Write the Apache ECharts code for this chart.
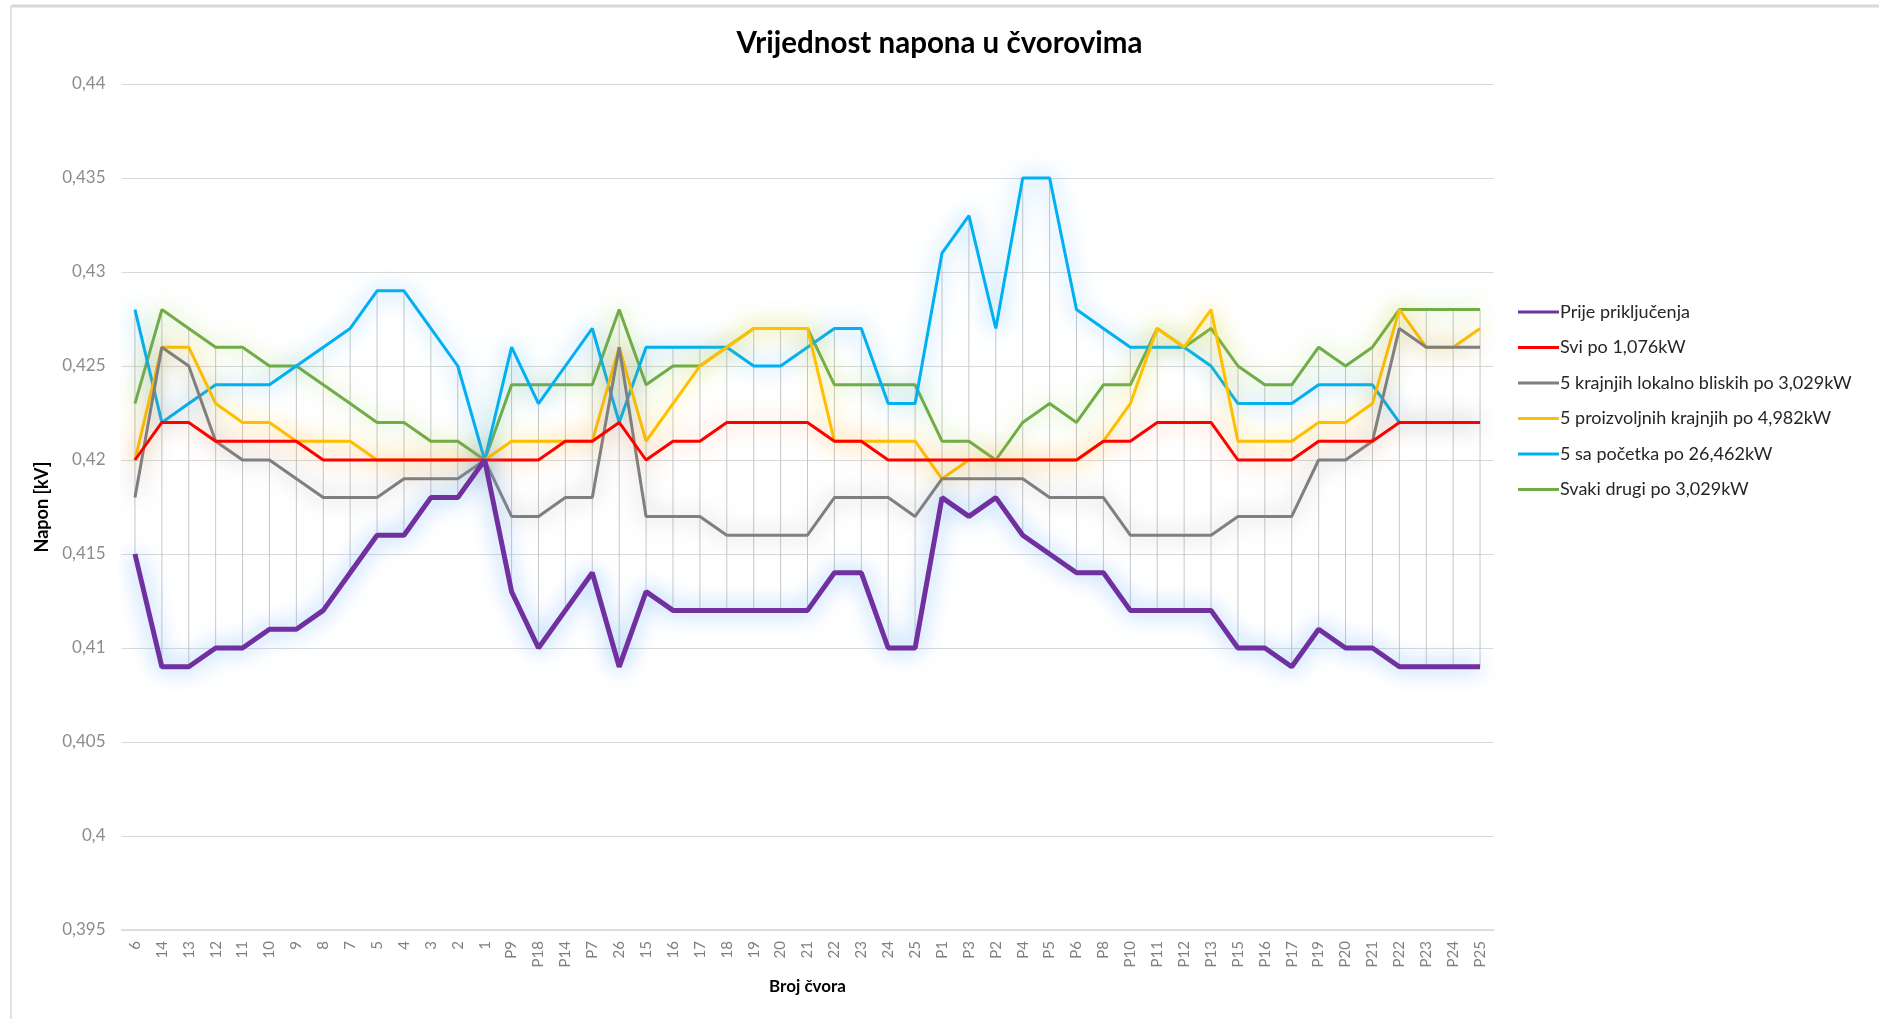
<!DOCTYPE html>
<html>
<head>
<meta charset="utf-8">
<title>Vrijednost napona u čvorovima</title>
<script src="https://cdn.jsdelivr.net/npm/echarts@6/dist/echarts.min.js"></script>
<style>
  html, body { margin: 0; padding: 0; background: #fff; }
  #chart { width: 1879px; height: 1019px; }
</style>
</head>
<body>
<div id="chart"></div>
<script>
// cvorovi (x os)
var cvorovi = ['6','14','13','12','11','10','9','8','7','5','4','3','2','1','P9','P18','P14','P7','26','15','16','17','18','19','20','21','22','23','24','25','P1','P3','P2','P4','P5','P6','P8','P10','P11','P12','P13','P15','P16','P17','P19','P20','P21','P22','P23','P24','P25'];

// napon [kV] po scenariju
var prijePrikljucenja = [0.415,0.409,0.409,0.410,0.410,0.411,0.411,0.412,0.414,0.416,0.416,0.418,0.418,0.420,0.413,0.410,0.412,0.414,0.409,0.413,0.412,0.412,0.412,0.412,0.412,0.412,0.414,0.414,0.410,0.410,0.418,0.417,0.418,0.416,0.415,0.414,0.414,0.412,0.412,0.412,0.412,0.410,0.410,0.409,0.411,0.410,0.410,0.409,0.409,0.409,0.409];
var sviPo1076 = [0.420,0.422,0.422,0.421,0.421,0.421,0.421,0.420,0.420,0.420,0.420,0.420,0.420,0.420,0.420,0.420,0.421,0.421,0.422,0.420,0.421,0.421,0.422,0.422,0.422,0.422,0.421,0.421,0.420,0.420,0.420,0.420,0.420,0.420,0.420,0.420,0.421,0.421,0.422,0.422,0.422,0.420,0.420,0.420,0.421,0.421,0.421,0.422,0.422,0.422,0.422];
var krajnjiLokalno = [0.418,0.426,0.425,0.421,0.420,0.420,0.419,0.418,0.418,0.418,0.419,0.419,0.419,0.420,0.417,0.417,0.418,0.418,0.426,0.417,0.417,0.417,0.416,0.416,0.416,0.416,0.418,0.418,0.418,0.417,0.419,0.419,0.419,0.419,0.418,0.418,0.418,0.416,0.416,0.416,0.416,0.417,0.417,0.417,0.420,0.420,0.421,0.427,0.426,0.426,0.426];
var proizvoljniKrajnji = [0.420,0.426,0.426,0.423,0.422,0.422,0.421,0.421,0.421,0.420,0.420,0.420,0.420,0.420,0.421,0.421,0.421,0.421,0.426,0.421,0.423,0.425,0.426,0.427,0.427,0.427,0.421,0.421,0.421,0.421,0.419,0.420,0.420,0.420,0.420,0.420,0.421,0.423,0.427,0.426,0.428,0.421,0.421,0.421,0.422,0.422,0.423,0.428,0.426,0.426,0.427];
var saPocetka = [0.428,0.422,0.423,0.424,0.424,0.424,0.425,0.426,0.427,0.429,0.429,0.427,0.425,0.420,0.426,0.423,0.425,0.427,0.422,0.426,0.426,0.426,0.426,0.425,0.425,0.426,0.427,0.427,0.423,0.423,0.431,0.433,0.427,0.435,0.435,0.428,0.427,0.426,0.426,0.426,0.425,0.423,0.423,0.423,0.424,0.424,0.424,0.422,0.422,0.422,0.422];
var svakiDrugi = [0.423,0.428,0.427,0.426,0.426,0.425,0.425,0.424,0.423,0.422,0.422,0.421,0.421,0.420,0.424,0.424,0.424,0.424,0.428,0.424,0.425,0.425,0.426,0.427,0.427,0.427,0.424,0.424,0.424,0.424,0.421,0.421,0.420,0.422,0.423,0.422,0.424,0.424,0.427,0.426,0.427,0.425,0.424,0.424,0.426,0.425,0.426,0.428,0.428,0.428,0.428];

var nazivi = ['Prije priključenja','Svi po 1,076kW','5 krajnjih lokalno bliskih po 3,029kW','5 proizvoljnih krajnjih po 4,982kW','5 sa početka po 26,462kW','Svaki drugi po 3,029kW'];
var boje = ['#7030a0','#ff0000','#7f7f7f','#ffc000','#00b0f0','#70ad47'];
var sjaj = ['rgba(100,170,245,1)','rgba(255,130,60,0.65)','rgba(110,110,110,0.6)','rgba(255,205,0,0.8)','rgba(50,160,240,0.8)','rgba(140,205,60,0.75)'];
var serije = [prijePrikljucenja, sviPo1076, krajnjiLokalno, proizvoljniKrajnji, saPocetka, svakiDrugi];

var font = 'Lato, "Open Sans", sans-serif';

// high-low linije (min do max po cvoru)
var hiLo = cvorovi.map(function (c, i) {
    var vals = serije.map(function (s) { return s[i]; });
    return [i, Math.min.apply(null, vals), Math.max.apply(null, vals)];
});

var series = [{
    type: 'custom',
    name: 'hilo',
    data: hiLo,
    z: 1,
    silent: true,
    renderItem: function (params, api) {
        var p1 = api.coord([api.value(0), api.value(1)]);
        var p2 = api.coord([api.value(0), api.value(2)]);
        return {
            type: 'line',
            shape: { x1: p1[0], y1: p1[1], x2: p2[0], y2: p2[1] },
            style: { stroke: '#c8c8c8', lineWidth: 1 }
        };
    }
}];

// redoslijed crtanja: zadnji je na vrhu
for (var k = serije.length - 1; k >= 0; k--) {
    series.push({
        type: 'line',
        name: nazivi[k],
        data: serije[k],
        symbol: 'none',
        showSymbol: false,
        z: 10 + (k == 0 ? 10 : 6 - k),
        color: boje[k],
        lineStyle: {
            color: boje[k],
            width: k == 0 ? 5 : 3,
            shadowColor: sjaj[k],
            shadowBlur: 22
        },
        emphasis: { disabled: true }
    });
}

var chart = echarts.init(document.getElementById('chart'));
var option = {
    animation: false,
    backgroundColor: '#ffffff',
    textStyle: { fontFamily: font },
    title: {
        text: 'Vrijednost napona u čvorovima',
        left: 'center',
        top: 23,
        textStyle: { fontFamily: font, fontSize: 29.5, fontWeight: 'bold', color: '#000' }
    },
    graphic: [
        { type: 'line', shape: { x1: 11, y1: 6, x2: 1879, y2: 6 }, style: { stroke: '#d9d9d9', lineWidth: 3 } },
        { type: 'line', shape: { x1: 11, y1: 6, x2: 11, y2: 1019 }, style: { stroke: '#d9d9d9', lineWidth: 1.5 } }
    ],
    legend: {
        orient: 'vertical',
        left: 1513,
        top: 298,
        icon: 'rect',
        itemWidth: 41,
        itemHeight: 3,
        itemGap: 17.5,
        data: nazivi,
        textStyle: { fontFamily: font, fontSize: 18, color: '#262626', padding: [0, 0, 0, -4], lineHeight: 18 }
    },
    grid: { left: 121.5, right: 385.5, top: 84, bottom: 89 },
    xAxis: {
        type: 'category',
        data: cvorovi,
        boundaryGap: true,
        name: 'Broj čvora',
        nameLocation: 'middle',
        nameGap: 48,
        nameTextStyle: { fontFamily: font, fontSize: 17, fontWeight: 'bold', color: '#000' },
        axisLine: { lineStyle: { color: '#d9d9d9', width: 1.5 } },
        axisTick: { show: false },
        axisLabel: { rotate: 90, interval: 0, fontSize: 15, color: '#7f7f7f', margin: 11 },
        splitLine: { show: false }
    },
    yAxis: {
        type: 'value',
        min: 0.395,
        max: 0.44,
        interval: 0.005,
        name: 'Napon [kV]',
        nameLocation: 'middle',
        nameGap: 58,
        nameTextStyle: { fontFamily: font, fontSize: 18, fontWeight: 'bold', color: '#000' },
        axisLine: { show: false },
        axisTick: { show: false },
        axisLabel: {
            fontSize: 17,
            color: '#8c8c8c',
            margin: 16,
            formatter: function (v) { return String(parseFloat(v.toFixed(4))).replace('.', ','); }
        },
        splitLine: { lineStyle: { color: '#d9d9d9', width: 1.2 } }
    },
    series: series
};
chart.setOption(option);
</script>
</body>
</html>
